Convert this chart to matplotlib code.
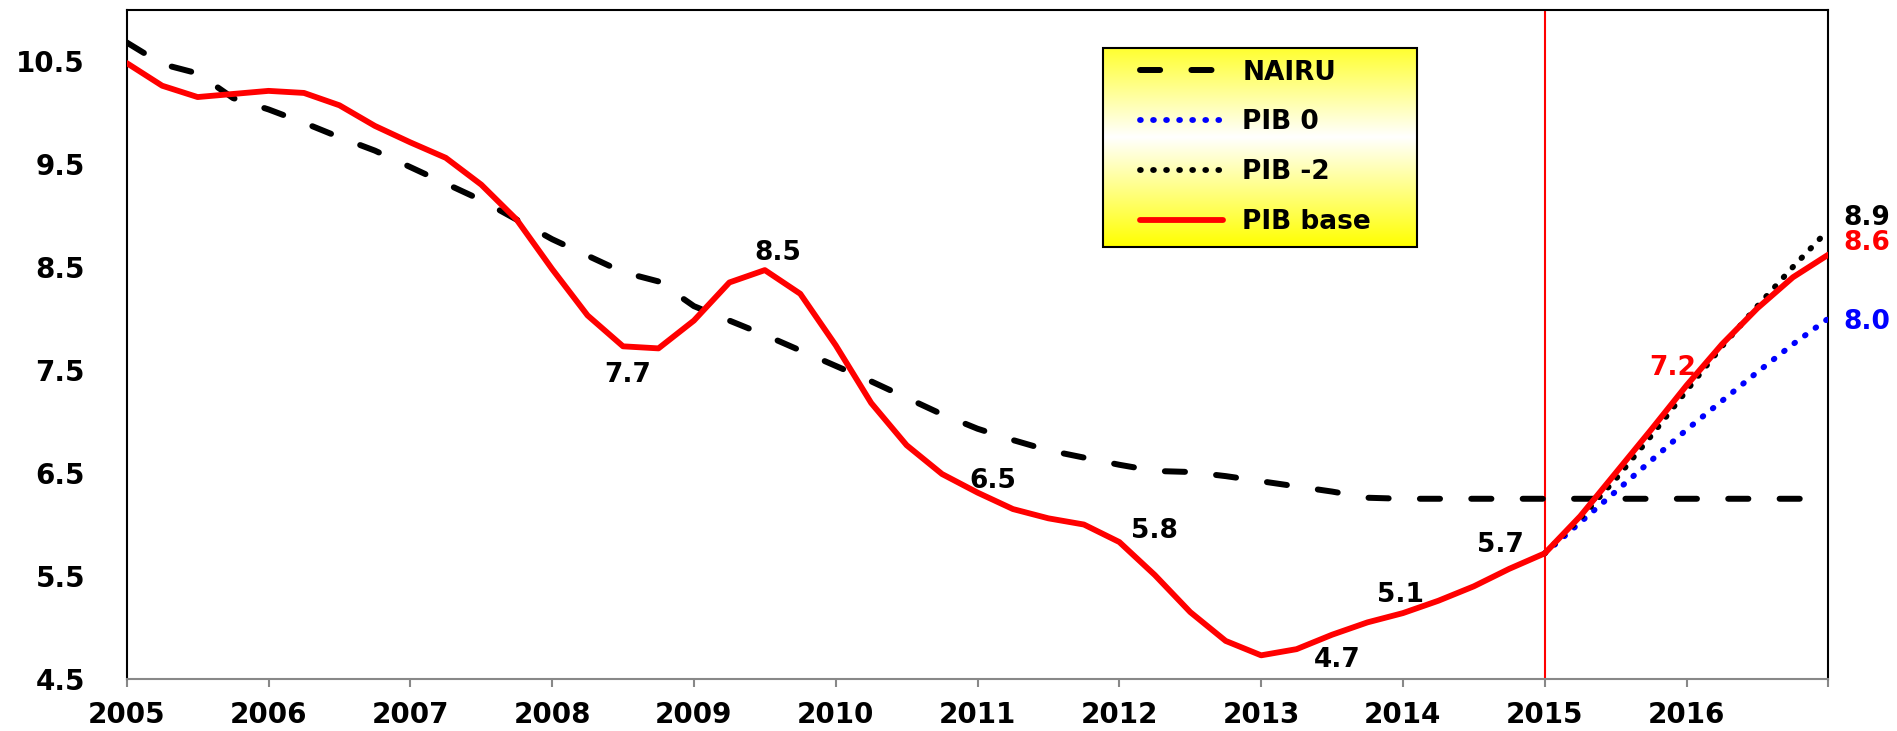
import numpy as np
import matplotlib.pyplot as plt
from matplotlib.patches import Rectangle

plt.rcParams['font.family'] = ['DejaVu Sans']
plt.rcParams['lines.scale_dashes'] = False

# quarterly points 2005Q1 .. 2017Q1
quarters = [2005 + q / 4 for q in range(49)]

nairu = [10.68, 10.47, 10.38, 10.14, 10.03, 9.90, 9.76, 9.63, 9.47, 9.31,
         9.15, 8.96, 8.77, 8.61, 8.45, 8.36, 8.12, 7.98, 7.84, 7.69,
         7.54, 7.39, 7.23, 7.07, 6.93, 6.82, 6.72, 6.65, 6.58, 6.52,
         6.51, 6.47, 6.42, 6.37, 6.32, 6.26, 6.25, 6.25, 6.25, 6.25,
         6.25, 6.25, 6.25, 6.25, 6.25, 6.25, 6.25, 6.25, 6.25]

pib_base = [10.48, 10.26, 10.15, 10.18, 10.21, 10.19, 10.07, 9.87, 9.71, 9.56,
            9.30, 8.96, 8.48, 8.03, 7.73, 7.71, 7.98, 8.35, 8.47, 8.24,
            7.74, 7.18, 6.77, 6.49, 6.31, 6.15, 6.06, 6.00, 5.83, 5.51,
            5.15, 4.87, 4.73, 4.79, 4.93, 5.05, 5.14, 5.26, 5.40, 5.57,
            5.72, 6.08, 6.50, 6.92, 7.35, 7.75, 8.10, 8.40, 8.62]

# scenarios start at 2015Q1
pib_0 = [5.72, 6.02, 6.32, 6.62, 6.92, 7.20, 7.48, 7.75, 8.00]
pib_m2 = [5.72, 6.06, 6.44, 6.86, 7.30, 7.73, 8.12, 8.50, 8.86]

years = list(range(2005, 2018))
year_labels = [str(y) for y in range(2005, 2017)] + ['']

# value labels: (x, y, text, colour)
point_labels = [
    (2008.53, 7.45, '7.7', 'black'),
    (2009.59, 8.64, '8.5', 'black'),
    (2011.11, 6.42, '6.5', 'black'),
    (2012.25, 5.94, '5.8', 'black'),
    (2013.54, 4.68, '4.7', 'black'),
    (2013.98, 5.32, '5.1', 'black'),
    (2014.69, 5.80, '5.7', 'black'),
    (2015.90, 7.52, '7.2', 'red'),
    (2017.27, 8.98, '8.9', 'black'),
    (2017.27, 8.73, '8.6', 'red'),
    (2017.27, 7.97, '8.0', 'blue'),
]

fig = plt.figure(figsize=(18.97, 7.31), dpi=100)
ax = fig.add_axes([0.0668, 0.0711, 0.897, 0.9159])

ax.axvline(2015, color='red', lw=1.5, zorder=1)

ax.plot(quarters, nairu, color='black', lw=4.3, dashes=(14.5, 22.5),
        dash_capstyle='round', label='NAIRU', zorder=2)
ax.plot(quarters[40:], pib_0, color='blue', lw=4.2, dashes=(0.6, 8.8),
        dash_capstyle='round', label='PIB 0', zorder=3)
ax.plot(quarters[40:], pib_m2, color='black', lw=4.2, dashes=(0.6, 8.8),
        dash_capstyle='round', label='PIB -2', zorder=3)
ax.plot(quarters, pib_base, color='red', lw=4.2, solid_joinstyle='round',
        solid_capstyle='round', label='PIB base', zorder=4)

for x, y, txt, col in point_labels:
    ax.text(x, y, txt, color=col, fontsize=19, fontweight='bold',
            ha='center', va='center', zorder=6)

# legend box with yellow-white-yellow gradient
bx0, bx1, by0, by1 = 0.574, 0.758, 0.645, 0.943
t = np.linspace(0, 1, 200)
w = np.clip(1 - np.abs(t - 0.45) / 0.55, 0, 1)
grad = np.zeros((200, 1, 3))
grad[:, 0, 0] = 1
grad[:, 0, 1] = 1
grad[:, 0, 2] = w
ax.imshow(grad, extent=(bx0, bx1, by0, by1), transform=ax.transAxes,
          aspect='auto', zorder=7, interpolation='bilinear')
ax.add_patch(Rectangle((bx0, by0), bx1 - bx0, by1 - by0, transform=ax.transAxes,
                       fill=False, edgecolor='black', lw=1.5, zorder=8))
leg = ax.legend(loc='upper left', bbox_to_anchor=(0.5955, 0.925), frameon=False,
                prop={'size': 19, 'weight': 'bold'}, handlelength=3.15,
                handletextpad=0.72, labelspacing=0.9, borderpad=0,
                borderaxespad=0)
leg.set_zorder(9)

ax.set_xlim(2005, 2017)
ax.set_ylim(4.5, 11.0)
ax.set_xticks(years)
ax.set_xticklabels(year_labels)
ax.set_yticks([4.5, 5.5, 6.5, 7.5, 8.5, 9.5, 10.5])
ax.set_yticklabels(['4.5', '5.5', '6.5', '7.5', '8.5', '9.5', '10.5'])

ax.tick_params(axis='x', direction='out', length=6, width=1.5, color='#888888',
               pad=10, labelsize=20)
ax.tick_params(axis='y', length=0, pad=30, labelsize=20)
for lab in ax.get_xticklabels() + ax.get_yticklabels():
    lab.set_fontweight('bold')

for side in ['left', 'top', 'right']:
    ax.spines[side].set_color('black')
    ax.spines[side].set_linewidth(1.5)
ax.spines['bottom'].set_color('#888888')
ax.spines['bottom'].set_linewidth(1.5)

fig.savefig('out.png', dpi=100)
